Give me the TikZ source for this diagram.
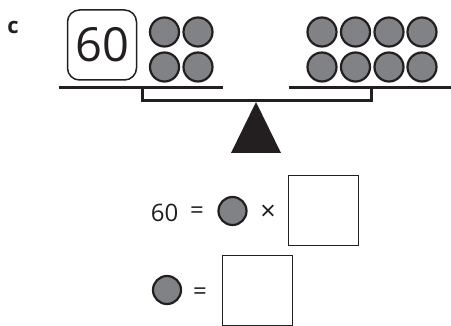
\documentclass[tikz,border=0pt]{standalone}
\usepackage{fontspec}
\setmainfont{Open Sans}
\definecolor{ballgray}{HTML}{808285}
\definecolor{ink}{HTML}{231F20}
\begin{document}
\begin{tikzpicture}[x=1pt,y=-1pt,
  ball/.style={circle,draw=ink,line width=2.2pt,fill=ballgray,minimum size=29pt,inner sep=0pt},
  beam/.style={draw=ink,line width=3pt},
  answer/.style={draw=ink,line width=0.8pt,minimum width=70pt,minimum height=70pt,inner sep=0pt},
  eqtext/.style={font=\fontsize{24}{24}\selectfont,text=ink,inner sep=0pt}]
\useasboundingbox (0,0) rectangle (451,326);
% label
\node[font=\bfseries\fontsize{22}{22}\selectfont,text=ink,inner sep=0pt] (lab) at (13,27) {c};
% sixty box
\node[draw=ink,line width=1.5pt,rounded corners=12pt,minimum width=69pt,minimum height=70pt,inner sep=0pt,
  font=\fontsize{47}{47}\selectfont,text=ink] (sixty) at (102,45) {60};
% left balls
\node[ball] (l1) at (164.5,32) {};
\node[ball] (l2) at (198,32) {};
\node[ball] (l3) at (164.5,67) {};
\node[ball] (l4) at (198,67) {};
% right balls
\foreach \i/\x in {1/322,2/355.5,3/389,4/422}{
  \node[ball] (ra\i) at (\x,32) {};
  \node[ball] (rb\i) at (\x,67) {};
}
% scale
\coordinate (lp1) at (59,88);
\coordinate (lp2) at (223,88);
\coordinate (lj) at (142,88);
\coordinate (rp1) at (289,88);
\coordinate (rp2) at (451,88);
\coordinate (rj) at (371,88);
\coordinate (bl) at (142,101);
\coordinate (br) at (371,101);
\draw[beam] (lp1) -- (lp2);
\draw[beam] (rp1) -- (rp2);
\draw[beam,line join=miter] (lj) -- (bl) -- (br) -- (rj);
\coordinate (apex) at (256,102);
\coordinate (tb1) at (231,153);
\coordinate (tb2) at (281,153);
\fill[ink] (apex) -- (tb2) -- (tb1) -- cycle;
% equation 1
\node[eqtext] (e60) at (164.5,213) {60};
\node[eqtext] (eq1) at (197,213) {=};
\node[ball,minimum size=28pt] (eb1) at (232.5,211) {};
\node[eqtext,font=\fontsize{27}{27}\selectfont] (times) at (268,213) {×};
\node[answer] (box1) at (323.5,210) {};
% equation 2
\node[ball,minimum size=28pt] (eb2) at (167,290) {};
\node[eqtext] (eq2) at (200,294) {=};
\node[answer] (box2) at (257.5,290.5) {};
\end{tikzpicture}
\end{document}
